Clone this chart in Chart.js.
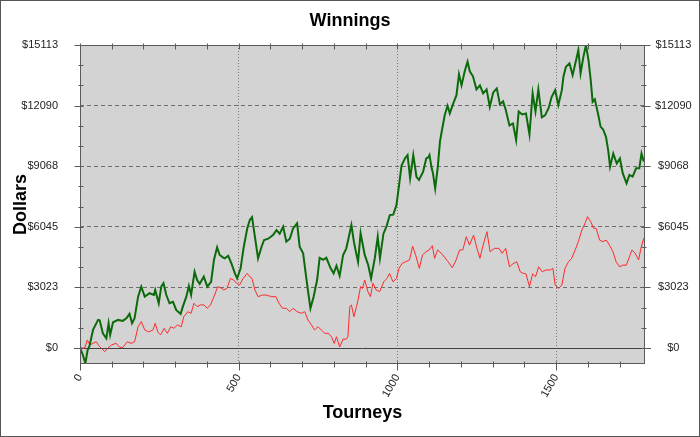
<!DOCTYPE html>
<html><head><meta charset="utf-8">
<script src="https://cdn.jsdelivr.net/npm/chart.js@4"></script>
<style>html,body{margin:0;padding:0;background:#fff}canvas{display:block}</style>
</head><body>
<canvas id="c" width="700" height="437"></canvas>
<script>
const greenTourneys = [0,8,17,24,30,41,57,62,72,83,90,95,104,120,135,146,156,164,172,183,193,204,219,233,237,248,256,263,272,282,293,303,317,324,335,343,350,361,369,377,390,401,413,422,432,440,450,456,467,477,488,495,506,516,527,535,542,551,561,572,580,593,608,619,629,640,650,661,671,684,692,703,711,718,726,736,747,755,766,776,789,799,808,818,829,839,847,855,863,868,876,884,897,908,917,929,938,945,956,966,976,987,997,1005,1013,1024,1032,1040,1050,1060,1068,1081,1091,1097,1101,1108,1112,1119,1127,1134,1139,1149,1158,1165,1176,1186,1194,1202,1212,1221,1228,1238,1249,1260,1270,1281,1291,1302,1313,1323,1333,1341,1353,1364,1374,1382,1393,1405,1416,1426,1435,1444,1455,1465,1476,1486,1497,1507,1518,1523,1531,1542,1552,1563,1570,1577,1586,1594,1602,1609,1615,1622,1633,1640,1648,1657,1664,1670,1680,1691,1701,1710,1722,1731,1741,1752,1762,1769,1776];
const greenWinnings = [0,-300,-760,-100,100,900,1400,1380,730,480,1230,650,1280,1400,1350,1480,1700,1230,1480,2560,3060,2560,2730,2650,2890,2230,3060,3230,2640,2230,2300,1900,1700,2060,2560,3090,2650,3800,3390,3200,3555,3060,3300,4390,5020,4640,4520,4470,4600,4220,3720,3470,3970,5050,5970,6380,6520,5550,4470,5050,5385,5450,5630,5880,5700,6050,5300,5450,5950,6220,5050,4720,3720,2890,1980,2560,3390,4500,4400,4500,4000,3720,4100,3600,4640,4970,5550,6130,5300,4890,4300,5720,4640,4140,3470,4500,5550,4470,5700,6080,6630,6650,7130,8100,9100,9460,9620,8460,9620,8540,8380,8790,9460,9500,9620,8960,8710,7960,9000,10290,10750,11610,12080,11700,12200,12610,13650,13100,13800,14280,13800,13550,12900,13100,12700,12900,12030,12750,12950,12150,12300,11900,11100,11200,10370,11800,11650,11700,10650,12700,11800,12900,11500,11600,11950,12530,12860,12120,12860,13530,14030,14200,13610,14360,14860,13700,14530,15110,14360,13360,12280,12400,11610,11040,10900,10530,9870,9040,9700,9200,9450,8710,8210,8630,8550,8960,8960,9700,9300];
const redTourneys = [0,15,23,31,41,51,62,78,88,99,114,125,135,149,161,172,183,193,204,216,230,237,245,254,265,275,286,296,307,319,327,340,350,359,369,380,390,401,411,422,434,447,453,463,474,484,493,503,514,527,535,542,551,561,575,587,603,617,627,638,650,661,671,684,697,708,718,729,739,750,760,771,782,792,801,808,818,829,839,844,850,855,863,871,876,884,890,897,907,915,923,933,944,957,967,975,986,997,1005,1015,1026,1038,1048,1058,1069,1079,1090,1100,1110,1117,1127,1143,1159,1173,1185,1196,1206,1217,1227,1240,1250,1260,1270,1282,1292,1306,1320,1330,1341,1353,1364,1376,1387,1397,1405,1416,1426,1435,1445,1456,1468,1482,1490,1497,1508,1518,1528,1539,1549,1560,1570,1581,1591,1599,1609,1618,1626,1637,1647,1658,1668,1679,1689,1700,1710,1721,1731,1739,1749,1760,1767,1776];
const redWinnings = [0,0,400,150,230,310,65,-185,0,150,230,30,30,310,230,310,1060,1310,900,800,900,1230,800,650,980,730,1060,980,1150,1060,1560,1810,1730,2230,2060,2150,2150,1980,2150,2560,3060,2970,2890,2970,3470,3390,3230,3150,3470,3720,3550,3470,2890,2560,2640,2640,2560,2560,2230,1980,1980,1810,1980,1810,1730,1810,1400,1150,900,1060,900,730,730,560,230,560,50,450,430,560,2060,2150,1560,2060,2390,3060,2970,3390,2810,2560,3230,2890,2810,3300,3470,3720,3300,3470,3970,4220,4300,4390,5080,4600,3970,4640,4800,4890,5100,4470,4890,4640,4310,4000,4390,4890,4890,5550,5130,5630,5000,4470,5130,5800,4800,4970,4970,4720,4970,4050,4200,4300,3800,3720,3700,3060,3700,3550,4050,3800,3890,3890,3970,3140,2970,3140,3970,4300,4470,4890,5300,5880,6220,6550,6300,5970,5970,5380,5300,5380,5130,4800,4300,4050,4130,4130,4550,4890,4720,4390,4970,5470];
const yTickValues = [0, 3023, 6045, 9068, 12090, 15113];
const yTickLabels = ['$0', '$3023', '$6045', '$9068', '$12090', '$15113'];
const xTickValues = [0, 500, 1000, 1500];
const xTickLabels = ['0', '500', '1000', '1500'];
const Y_MIN = -800, Y_MAX = 15113, X_MIN = 0, X_MAX = 1780;

const FONT = "'Liberation Sans', Arial, sans-serif";

const decor = {
  id: 'decor',
  beforeDraw(chart) {
    const {ctx, chartArea: a} = chart;
    ctx.save();
    ctx.fillStyle = '#ffffff';
    ctx.fillRect(0, 0, chart.width, chart.height);
    ctx.fillStyle = '#d3d3d3';
    ctx.fillRect(a.left, a.top, a.right - a.left, a.bottom - a.top);
    ctx.restore();
  },
  beforeDatasetsDraw(chart) {
    const {ctx, chartArea: a, scales} = chart;
    const y0 = Math.round(scales.y.getPixelForValue(0)) + 0.5;
    ctx.save();
    ctx.strokeStyle = '#404040';
    ctx.lineWidth = 1;
    ctx.beginPath();
    ctx.moveTo(a.left - 6, y0);
    ctx.lineTo(a.right + 6, y0);
    ctx.stroke();
    ctx.restore();
  },
  afterDraw(chart) {
    const {ctx, chartArea: a, scales} = chart;
    ctx.save();
    ctx.strokeStyle = '#5a5a5a';
    ctx.lineWidth = 1;
    const L = Math.round(a.left) + 0.5, R = Math.round(a.right) - 0.5;
    const T = Math.round(a.top) + 0.5, B = Math.round(a.bottom) - 0.5;
    ctx.strokeRect(L, T, R - L, B - T);
    ctx.beginPath();
    const step = 15113 / 15;
    for (let k = 0; k <= 15; k++) {
      const v = k * step;
      const p = Math.round(scales.y.getPixelForValue(v)) + 0.5;
      const major = k % 3 === 0;
      ctx.moveTo(L - (major ? 6 : 2), p); ctx.lineTo(L + 3, p);
      ctx.moveTo(R - 3, p); ctx.lineTo(R + (major ? 6 : 2), p);
    }
    for (let t = 0; t <= 1700; t += 100) {
      const p = Math.round(scales.x.getPixelForValue(t)) + 0.5;
      const major = t % 500 === 0;
      ctx.moveTo(p, B - 2); ctx.lineTo(p, B + (major ? 7 : 4));
      ctx.moveTo(p, T - 2); ctx.lineTo(p, T + 4);
    }
    ctx.stroke();
    ctx.strokeStyle = '#555';
    ctx.strokeRect(0.5, 0.5, chart.width - 1, chart.height - 1);
    ctx.restore();
  }
};

const yTicksBuild = (axis) => { axis.ticks = yTickValues.map(v => ({value: v})); };
const yLabel = (v) => { const i = yTickValues.indexOf(v); return i >= 0 ? yTickLabels[i] : ''; };

new Chart(document.getElementById('c'), {
  type: 'line',
  data: {
    datasets: [
      {
        label: 'Green',
        data: greenTourneys.map((t, i) => ({x: t, y: greenWinnings[i]})),
        borderColor: '#0b6b0b',
        borderWidth: 2,
        pointRadius: 0,
        tension: 0,
        xAxisID: 'x', yAxisID: 'y'
      },
      {
        label: 'Red',
        data: redTourneys.map((t, i) => ({x: t, y: redWinnings[i]})),
        borderColor: '#ff2a2a',
        borderWidth: 1,
        pointRadius: 0,
        tension: 0,
        xAxisID: 'x', yAxisID: 'y'
      }
    ]
  },
  options: {
    responsive: false,
    animation: false,
    devicePixelRatio: 1,
    layout: {padding: 0},
    plugins: {
      legend: {display: false},
      tooltip: {enabled: false},
      title: {
        display: true,
        text: 'Winnings',
        color: '#000',
        font: {family: FONT, size: 18, weight: 'bold', lineHeight: 1.2},
        padding: {top: 10, bottom: 0}
      }
    },
    scales: {
      x: {
        type: 'linear', position: 'bottom', min: X_MIN, max: X_MAX,
        afterBuildTicks: (axis) => { axis.ticks = xTickValues.map(v => ({value: v})); },
        afterFit: (s) => { s.height = 73; },
        border: {display: false, dash: [1, 2]},
        grid: {color: (c) => (c.tick && c.tick.value === 0 ? 'transparent' : '#7a7a7a'), drawTicks: false, lineWidth: 1},
        ticks: {
          autoSkip: false, minRotation: 60, maxRotation: 60, padding: 8,
          color: '#222', font: {family: FONT, size: 11},
          callback: (v) => { const i = xTickValues.indexOf(v); return i >= 0 ? xTickLabels[i] : ''; }
        },
        title: {display: true, text: 'Tourneys', color: '#000', font: {family: FONT, size: 18, weight: 'bold', lineHeight: 1.2}, padding: {top: 0, bottom: 13}}
      },
      x2: {
        type: 'linear', position: 'top', min: X_MIN, max: X_MAX,
        afterFit: (s) => { s.height = 13.4; },
        border: {display: false},
        grid: {display: false, drawTicks: false},
        ticks: {display: false}
      },
      y: {
        type: 'linear', position: 'left', min: Y_MIN, max: Y_MAX,
        afterBuildTicks: yTicksBuild,
        afterFit: (s) => { s.width = 80; },
        border: {display: false, dash: [4, 3]},
        grid: {color: (c) => (c.tick && (c.tick.value === 0 || c.tick.value === 15113) ? 'transparent' : '#6e6e6e'), drawTicks: false},
        ticks: {padding: 22, color: '#222', font: {family: FONT, size: 11}, callback: yLabel},
        title: {display: true, text: 'Dollars', color: '#000', font: {family: FONT, size: 18, weight: 'bold', lineHeight: 1.2}, padding: {top: 10, bottom: 0}}
      },
      y2: {
        type: 'linear', position: 'right', min: Y_MIN, max: Y_MAX, display: true,
        afterBuildTicks: yTicksBuild,
        afterFit: (s) => { s.width = 55; },
        border: {display: false},
        grid: {display: false, drawTicks: false},
        ticks: {padding: 10, crossAlign: 'center', color: '#222', font: {family: FONT, size: 11}, callback: yLabel}
      }
    }
  },
  plugins: [decor]
});
</script>
</body></html>
